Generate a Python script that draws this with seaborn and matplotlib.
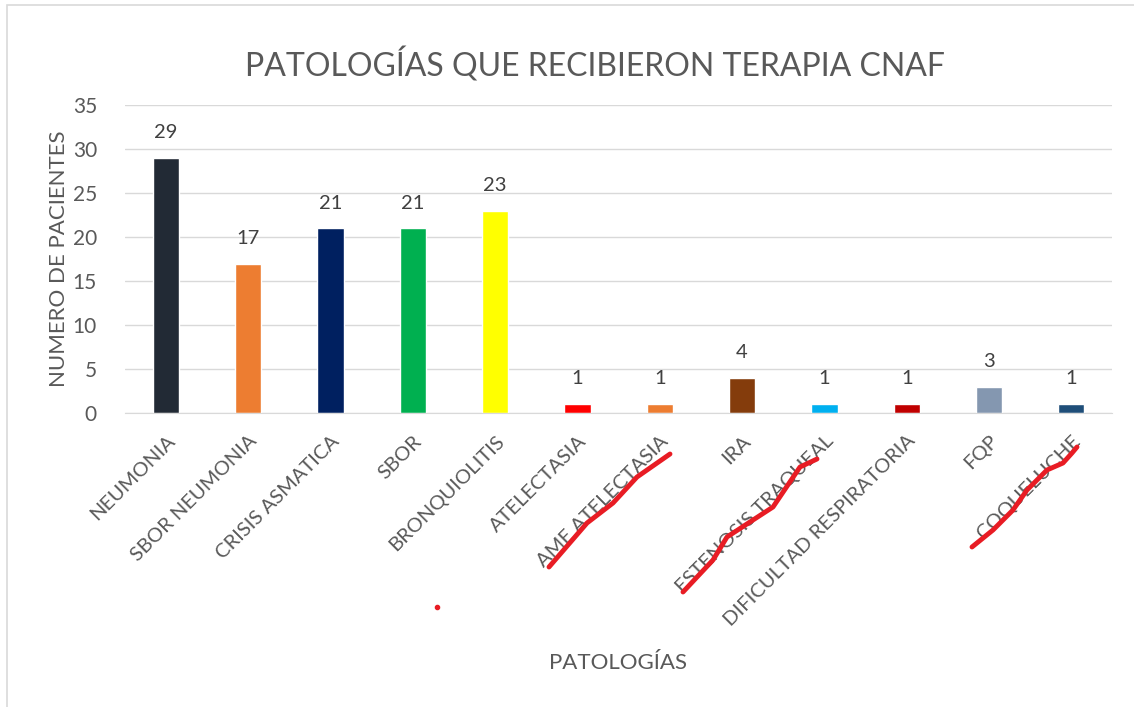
import matplotlib
matplotlib.use('Agg')
import matplotlib.pyplot as plt
import matplotlib.patches as mpatches
from matplotlib.lines import Line2D
import seaborn as sns
import pandas as pd

# datos
patologias = ['NEUMONIA', 'SBOR NEUMONIA', 'CRISIS ASMATICA', 'SBOR', 'BRONQUIOLITIS',
              'ATELECTASIA', 'AME ATELECTASIA', 'IRA', 'ESTENOSIS TRAQUEAL',
              'DIFICULTAD RESPIRATORIA', 'FQP', 'COQUELUCHE']
pacientes = [29, 17, 21, 21, 23, 1, 1, 4, 1, 1, 3, 1]
colores = ['#222a35', '#ed7d31', '#002060', '#00b050', '#ffff00', '#ff0000',
           '#ed7d31', '#843c0c', '#00b0f0', '#c00000', '#8497b0', '#1f4e79']

df = pd.DataFrame({'patologia': patologias, 'pacientes': pacientes})

sns.set_style('white')
plt.rcParams['font.family'] = ['Lato', 'DejaVu Sans']

fig = plt.figure(figsize=(11.34, 7.07), dpi=100)
ax = fig.add_axes([0.110, 0.416, 0.871, 0.435])

sns.barplot(data=df, x='patologia', y='pacientes', hue='patologia',
            palette=colores, width=0.32, legend=False, ax=ax, saturation=1)

ax.set_ylim(0, 35)
ax.set_yticks(range(0, 36, 5))
ax.set_xlim(-0.5, len(patologias) - 0.5)
ax.yaxis.grid(True, color='#d9d9d9', linewidth=1)
ax.set_axisbelow(True)
for s in ['top', 'right', 'left']:
    ax.spines[s].set_visible(False)
ax.spines['bottom'].set_color('#d9d9d9')
ax.tick_params(axis='both', length=0, colors='#595959')
ax.tick_params(axis='y', pad=20, labelsize=15)
ax.tick_params(axis='x', pad=14, labelsize=14.5)
ax.set_xticks(range(len(patologias)))
ax.set_xticklabels(patologias, rotation=45, ha='right', rotation_mode='anchor')

# etiquetas de valor
for i, v in enumerate(pacientes):
    ax.text(i, v + 1.9, str(v), ha='center', va='bottom', fontsize=14.5, color='#404040')

fig.text(0.525, 0.908, 'PATOLOGÍAS QUE RECIBIERON TERAPIA CNAF', ha='center', va='center',
         fontsize=23, color='#595959')
ax.set_ylabel('NUMERO DE PACIENTES', fontsize=16, color='#595959', labelpad=3)
ax.set_xlabel('')
fig.text(0.545, 0.062, 'PATOLOGÍAS', ha='center', va='center', fontsize=16, color='#595959')

# marco del gráfico
fig.add_artist(mpatches.Rectangle((7 / 1134, -0.01), 1.2, 1 - 5 / 707 + 0.01,
                                  transform=fig.transFigure, fill=False,
                                  edgecolor='#d9d9d9', linewidth=1.2))

# tachones a mano alzada (rojo)
def px(pts):
    return [p[0] / 1134 for p in pts], [1 - p[1] / 707 for p in pts]

tachones = [
    [(549, 567), (587, 523), (613, 503), (637, 477), (670, 454)],
    [(683, 592), (713, 560), (727, 537), (753, 520), (773, 507), (800, 467), (817, 459)],
    [(972, 547), (993, 530), (1013, 510), (1027, 490), (1047, 470), (1063, 463),
     (1072, 453), (1077, 447)],
]
for t in tachones:
    xs, ys = px(t)
    fig.add_artist(Line2D(xs, ys, transform=fig.transFigure, color='#e81c24',
                          linewidth=3.5, solid_capstyle='round'))
xs, ys = px([(437, 607)])
fig.add_artist(Line2D(xs, ys, transform=fig.transFigure, color='#e81c24',
                      marker='o', markersize=3, linestyle='none'))

fig.savefig('out.png', dpi=100)
